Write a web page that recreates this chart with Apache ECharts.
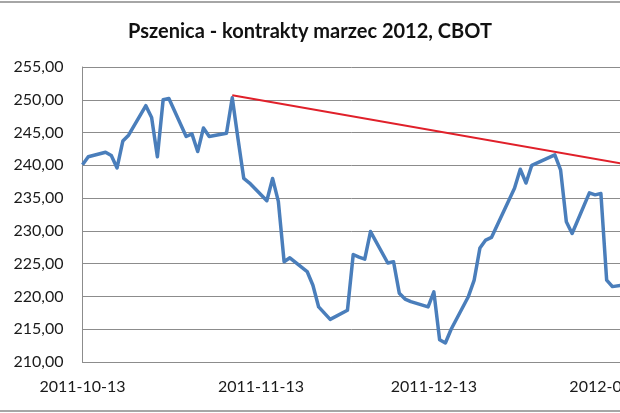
<!DOCTYPE html>
<html>
<head>
<meta charset="utf-8">
<script src="https://cdn.jsdelivr.net/npm/echarts@6/dist/echarts.min.js"></script>
<style>
html,body{margin:0;padding:0;background:#fff;}
#c{width:620px;height:413px;}
</style>
</head>
<body>
<div id="c"></div>
<script>
// ---- data ----
var titleText = 'Pszenica - kontrakty marzec 2012, CBOT';
var axisStart = '2011-10-13';
var axisEnd = '2012-01-31';
var tradeDates = [
 '2011-10-13','2011-10-14','2011-10-17','2011-10-18','2011-10-19','2011-10-20','2011-10-21',
 '2011-10-24','2011-10-25','2011-10-26','2011-10-27','2011-10-28','2011-10-31',
 '2011-11-01','2011-11-02','2011-11-03','2011-11-04','2011-11-07','2011-11-08','2011-11-09',
 '2011-11-10','2011-11-11','2011-11-14','2011-11-15','2011-11-16','2011-11-17','2011-11-18',
 '2011-11-21','2011-11-22','2011-11-23','2011-11-25','2011-11-28','2011-11-29','2011-11-30',
 '2011-12-01','2011-12-02','2011-12-05','2011-12-06','2011-12-07','2011-12-08','2011-12-09',
 '2011-12-12','2011-12-13','2011-12-14','2011-12-15','2011-12-16','2011-12-19','2011-12-20',
 '2011-12-21','2011-12-22','2011-12-23','2011-12-27','2011-12-28','2011-12-29','2011-12-30',
 '2012-01-03','2012-01-04','2012-01-05','2012-01-06','2012-01-09','2012-01-10','2012-01-11',
 '2012-01-12','2012-01-13','2012-01-17'
];
var prices = [
 240.1,241.3,242.0,241.5,239.6,243.7,244.6,
 249.1,247.3,241.3,250.0,250.2,244.4,
 244.8,242.1,245.7,244.4,244.9,250.3,244.0,
 238.0,237.3,234.6,238.0,234.5,225.3,225.9,
 223.8,221.7,218.4,216.5,217.9,226.4,226.0,
 225.7,229.9,225.1,225.3,220.5,219.6,219.2,
 218.4,220.7,213.4,212.9,215.0,220.0,222.5,
 227.4,228.6,229.0,236.5,239.4,237.3,240.0,
 241.6,239.3,231.4,229.6,235.8,235.5,235.7,
 222.5,221.5,222.0
];
var trendDates = ['2011-11-08','2012-01-17'];
var trendValues = [250.7,239.9];
var yMin = 210, yMax = 255, yStep = 5;

// ---- build calendar category axis ----
function fmt(d){
  var m = d.getUTCMonth()+1, dd = d.getUTCDate();
  return d.getUTCFullYear()+'-'+(m<10?'0':'')+m+'-'+(dd<10?'0':'')+dd;
}
var days = [];
var cur = new Date(axisStart+'T00:00:00Z'), end = new Date(axisEnd+'T00:00:00Z');
while (cur <= end) { days.push(fmt(cur)); cur = new Date(cur.getTime()+86400000); }
function toSeries(ds, vs){
  var map = {}; ds.forEach(function(d,i){ map[d]=vs[i]; });
  return days.map(function(d){ return map.hasOwnProperty(d) ? map[d] : null; });
}
var priceSeries = toSeries(tradeDates, prices);
var trendSeries = toSeries(trendDates, trendValues);

var pxPerDay = 5.76, left = 82.5;
var gridWidth = pxPerDay*(days.length-1);

var chart = echarts.init(document.getElementById('c'), null, {renderer:'canvas'});
chart.setOption({
  backgroundColor:'#fff',
  animation:false,
  textStyle:{fontFamily:'Lato'},
  title:{
    text:titleText, left:'center', top:17,
    textStyle:{fontFamily:'Lato', fontWeight:'bold', fontSize:20, color:'#111'}
  },
  graphic:[
    {type:'line', silent:true, z:-1, shape:{x1:0, y1:2, x2:620, y2:2},
     style:{stroke:'#a6a6a6', lineWidth:2}},
    {type:'line', silent:true, z:-1, shape:{x1:0, y1:411, x2:620, y2:411},
     style:{stroke:'#a6a6a6', lineWidth:2}}
  ],
  grid:{left:left, width:gridWidth, top:67, height:295, containLabel:false, outerBoundsMode:'none'},
  xAxis:{
    type:'category', data:days, boundaryGap:false,
    axisLine:{show:true, lineStyle:{color:'#8c8c8c', width:1}},
    axisTick:{show:false},
    axisLabel:{
      interval:function(i, v){ return v.slice(8)==='13'; },
      margin:17, fontSize:16, color:'#1a1a1a', fontFamily:'Lato',
      showMinLabel:true, showMaxLabel:true, hideOverlap:false
    },
    splitLine:{show:false}
  },
  yAxis:{
    type:'value', min:yMin, max:yMax, interval:yStep,
    axisLine:{show:true, lineStyle:{color:'#8c8c8c', width:1}},
    axisTick:{show:false},
    axisLabel:{
      margin:19, fontSize:16, color:'#1a1a1a', fontFamily:'Lato',
      formatter:function(v){ return v.toFixed(2).replace('.', ','); }
    },
    splitLine:{show:true, lineStyle:{color:'#8c8c8c', width:1}}
  },
  series:[
    {
      type:'line', data:priceSeries, connectNulls:true, showSymbol:false, symbol:'none',
      lineStyle:{color:'#4a7ebb', width:3.5, join:'round'}, z:2
    },
    {
      type:'line', data:trendSeries, connectNulls:true, showSymbol:false, symbol:'none',
      lineStyle:{color:'#e0202a', width:2}, z:3
    }
  ]
});
</script>
</body>
</html>
